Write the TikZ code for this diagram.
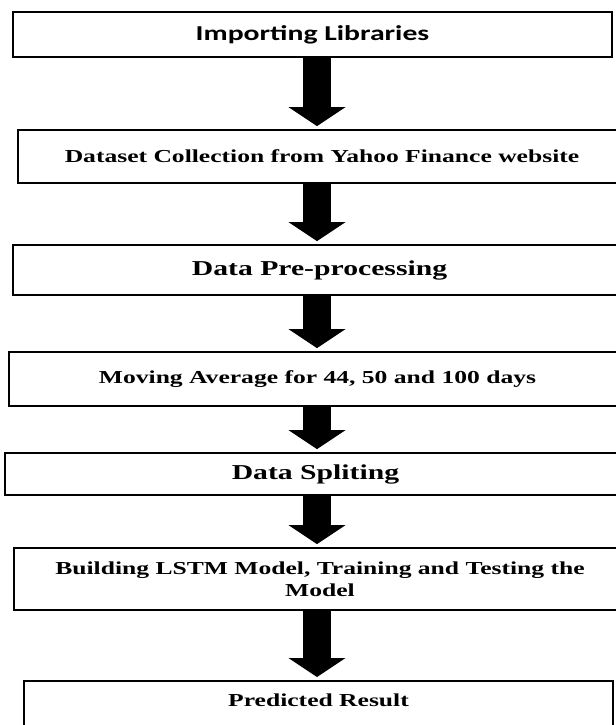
\documentclass[tikz,border=0pt]{standalone}
\usepackage{fontspec}
\setmainfont{Liberation Serif}[FakeStretch=1.4]
\newfontfamily\calibrifont{Carlito}[FakeStretch=1.4]
\usetikzlibrary{arrows.meta, positioning}

\begin{document}
\begin{tikzpicture}[
    x=0.75pt, y=-0.75pt,
    stage/.style={rectangle, draw, line width=1.3pt, minimum width=#1, align=center, inner sep=0pt},
    titletext/.style={font=\bfseries\fontsize{15.9pt}{19pt}\selectfont},
    bodytext/.style={font=\bfseries\fontsize{13.7pt}{16.5pt}\selectfont},
    flow/.style={line width=21pt, -{Triangle[width=42.75pt, length=14.25pt, line width=0pt]}, shorten >=2.25pt},
]
    \useasboundingbox (0,0) rectangle (616,725);
    \fill[white] (0,0) rectangle (616,725);
    \clip (0,0) rectangle (616,725);

    % Libraries
    \node[stage=449.25pt, minimum height=33.75pt, font=\calibrifont\bfseries\fontsize{15.9pt}{19pt}\selectfont] (libs) at (312.5,34.5) {Importing Libraries};

    % Dataset
    \node[stage=456pt, minimum height=39.75pt, bodytext] (collect) at (322,156.5) {Dataset Collection from Yahoo Finance website};

    % Pre-processing
    \node[stage=459.75pt, minimum height=37.5pt, titletext] (prep) at (319.5,270) {Data Pre-processing};

    % Moving average
    \node[stage=462.75pt, minimum height=40.5pt, bodytext] (movavg) at (317.5,379) {Moving Average for 44, 50 and 100 days};

    % Splitting
    \node[stage=465.75pt, minimum height=31.5pt, titletext] (split) at (315.5,474) {Data Spliting};

    % LSTM model
    \node[stage=459pt, minimum height=46.5pt, bodytext] (lstm) at (320,579) {Building LSTM Model, Training and Testing the\\Model};

    % Result
    \node[stage=441.75pt, bodytext, anchor=north, text height=19.5pt, text depth=29pt] (result) at (318.5,680) {Predicted Result};

    % Arrows
    \coordinate (axis) at (317,0);
    \draw[flow] (libs.south -| axis) -- (collect.north -| axis);
    \draw[flow] (collect.south -| axis) -- (prep.north -| axis);
    \draw[flow] (prep.south -| axis) -- (movavg.north -| axis);
    \draw[flow] (movavg.south -| axis) -- (split.north -| axis);
    \draw[flow] (split.south -| axis) -- (lstm.north -| axis);
    \draw[flow] (lstm.south -| axis) -- (result.north -| axis);

\end{tikzpicture}
\end{document}
